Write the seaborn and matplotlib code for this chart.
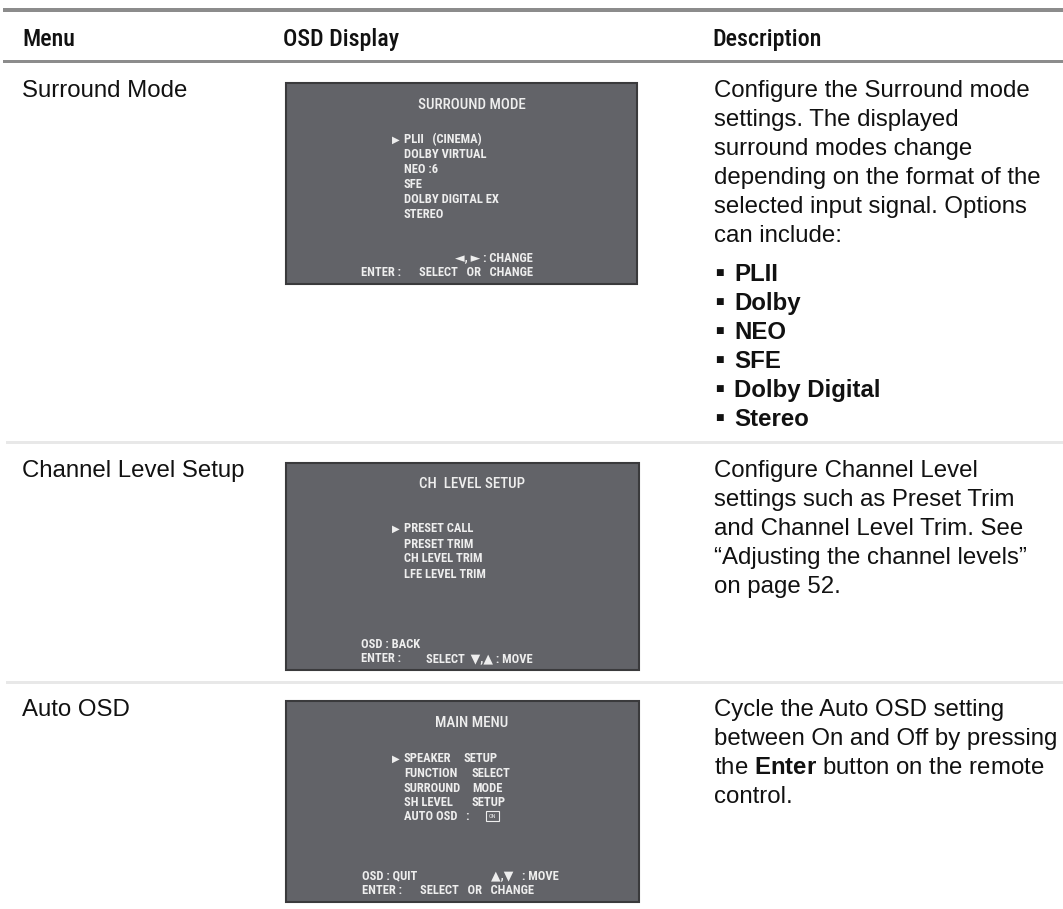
import matplotlib
matplotlib.use("Agg")
import matplotlib.pyplot as plt
from matplotlib.patches import Rectangle
from matplotlib import font_manager
import seaborn as sns

# ---- table content ----
headers = ["Menu", "OSD Display", "Description"]
menus = ["Surround Mode", "Channel Level Setup", "Auto OSD"]

surround_desc = ["Configure the Surround mode", "settings. The displayed",
                 "surround modes change", "depending on the format of the",
                 "selected input signal. Options", "can include:"]
surround_options = ["PLII", "Dolby", "NEO", "SFE", "Dolby Digital", "Stereo"]
channel_desc = ["Configure Channel Level", "settings such as Preset Trim",
                "and Channel Level Trim. See",
                "\u201cAdjusting the channel levels\u201d", "on page 52."]
auto_desc = ["Cycle the Auto OSD setting", "between On and Off by pressing",
             r"the $\mathbf{Enter}$ button on the remote", "control."]
descriptions = [surround_desc, channel_desc, auto_desc]

# on-screen display text
osd_titles = ["SURROUND MODE", "CH  LEVEL SETUP", "MAIN MENU"]
surround_items = ["PLII   (CINEMA)", "DOLBY VIRTUAL", "NEO :6", "SFE",
                  "DOLBY DIGITAL EX", "STEREO"]
channel_items = ["PRESET CALL", "PRESET TRIM", "CH LEVEL TRIM", "LFE LEVEL TRIM"]
main_items = ["SPEAKER", "FUNCTION", "SURROUND", "SH LEVEL", "AUTO OSD   :"]
main_values = ["SETUP", "SELECT", "MODE", "SETUP", ""]
osd_items = [surround_items, channel_items, main_items]

# ---- layout (pixels, y downwards) ----
W, H = 1063, 909
PX = 0.72                      # points per pixel at dpi 100
row_y = [88, 468, 707]         # first text line of each row
boxes = [(286, 83, 637, 284), (286, 463, 639, 670), (286, 701, 639, 902)]
title_y = [104, 483, 722]
item_y0 = [139, 528, 758]
item_step = [14.8, 15.0, 14.5]

sns.set_theme(style="white")
installed = {f.name for f in font_manager.fontManager.ttflist}
narrow = next((f for f in ["Liberation Sans Narrow", "DejaVu Sans Condensed",
                           "Roboto Condensed"] if f in installed), None)
body_font = "Liberation Sans"
osd_font = narrow or "Liberation Sans"
shrink = 1.0 if narrow else 0.82   # normal-width face must be drawn smaller
plt.rcParams["font.family"] = [body_font, "DejaVu Sans"]
plt.rcParams["mathtext.fontset"] = "custom"
plt.rcParams["mathtext.rm"] = body_font
plt.rcParams["mathtext.bf"] = body_font + ":bold"

fig = plt.figure(figsize=(W / 100, H / 100), dpi=100)
ax = fig.add_axes([0, 0, 1, 1])
ax.set_xlim(0, W)
ax.set_ylim(H, 0)
ax.axis("off")


def txt(x, y, s, px, family=None, weight="normal", color="#111111", ha="left"):
    # y is the middle of the capitals
    ax.text(x, y + 0.36 * px, s, fontsize=px * PX, ha=ha, va="baseline",
            family=[family or body_font, "DejaVu Sans"], weight=weight,
            color=color)


# rules
ax.add_patch(Rectangle((3, 8), W - 3, 4, color="#8c8c8c", lw=0))
ax.add_patch(Rectangle((3, 60), W - 3, 3, color="#8c8c8c", lw=0))
for y in [441, 681]:
    ax.add_patch(Rectangle((6, y), W - 6, 3, color="#e8e8e8", lw=0))

# header
for x, h in zip([22, 283, 712], headers):
    txt(x, 37, h, 24 * shrink, family=osd_font, weight="medium")

# menu column and descriptions
for i, m in enumerate(menus):
    txt(22, row_y[i], m, 24)
    for k, line in enumerate(descriptions[i]):
        txt(714, row_y[i] + 29 * k, line, 24)

for k, opt in enumerate(surround_options):
    y = 272 + 29 * k
    txt(715, y, "\u25a0", 9, family="DejaVu Sans")
    txt(734, y, opt, 24, weight="bold")

# OSD screens
osd_col = "#eeeeee"
tpx = 15 * shrink
ipx = 12.5 * shrink
for i, (x0, y0, x1, y1) in enumerate(boxes):
    ax.add_patch(Rectangle((x0, y0), x1 - x0, y1 - y0, facecolor="#626368",
                           edgecolor="#3a3a3c", lw=1.5))
    txt(472, title_y[i], osd_titles[i], tpx, family=osd_font, weight="medium",
        color=osd_col, ha="center")
    for k, item in enumerate(osd_items[i]):
        y = item_y0[i] + item_step[i] * k
        txt(404, y, item, ipx, family=osd_font, weight="bold", color=osd_col)
    txt(392, item_y0[i], "\u25b6", 10, family="DejaVu Sans", color=osd_col)

for k, v in enumerate(main_values):
    txt(464 if k == 0 else 472, item_y0[2] + item_step[2] * k, v, ipx,
        family=osd_font, weight="bold", color=osd_col)
# "ON" badge
ax.add_patch(Rectangle((486, 811), 13, 10, fill=False, edgecolor=osd_col, lw=0.8))
txt(492.5, 816, "ON", 6, family=osd_font, color=osd_col, ha="center")

# OSD footers
footers = [
    (533, 257, "\u25c4, \u25ba : CHANGE", "right"),
    (361, 272, "ENTER :", "left"),
    (533, 272, "SELECT   OR   CHANGE", "right"),
    (361, 643, "OSD : BACK", "left"),
    (361, 658, "ENTER :", "left"),
    (533, 658, "SELECT  \u25bc,\u25b2 : MOVE", "right"),
    (362, 875, "OSD : QUIT", "left"),
    (559, 875, "\u25b2,\u25bc   : MOVE", "right"),
    (362, 890, "ENTER :", "left"),
    (534, 890, "SELECT   OR   CHANGE", "right"),
]
for x, y, s, ha in footers:
    txt(x, y, s, ipx, family=osd_font, weight="bold", color=osd_col, ha=ha)

fig.savefig("out.png", dpi=100)
